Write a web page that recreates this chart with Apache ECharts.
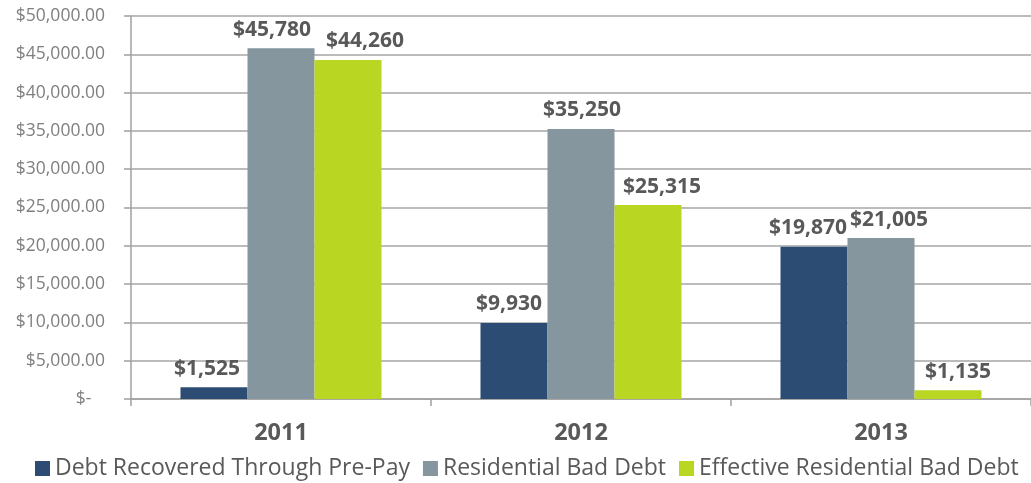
<!DOCTYPE html>
<html>
<head>
<meta charset="utf-8">
<script src="https://cdn.jsdelivr.net/npm/echarts@6/dist/echarts.min.js"></script>
<style>
  html, body { margin: 0; padding: 0; background: #fff; }
  #chart { width: 1031px; height: 483px; }
</style>
</head>
<body>
<div id="chart"></div>
<script>
// Years on the category axis
const years = ['2011', '2012', '2013'];

// Series values (dollars)
const recoveredPrePay = [1525, 9930, 19870];
const residentialBadDebt = [45780, 35250, 21005];
const effectiveBadDebt = [44260, 25315, 1135];

// Series names shown in the legend
const seriesNames = ['Debt Recovered Through Pre-Pay', 'Residential Bad Debt', 'Effective Residential Bad Debt'];

// Horizontal nudges for the value labels (px), per year
const labelShift = [
  [-7, -9, 17],
  [-5, 1, 14],
  [-6, 8, 10]
];

const colors = ['#2c4c74', '#85969e', '#b9d622'];
const font = '"Open Sans", Lato, sans-serif';

function money(v) {
  return '$' + v.toLocaleString('en-US');
}

function buildSeries(idx, values) {
  return {
    name: seriesNames[idx],
    type: 'bar',
    barGap: '0%',
    barCategoryGap: '33%',
    itemStyle: { color: colors[idx] },
    data: values.map((v, i) => ({
      value: v,
      label: { offset: [labelShift[i][idx], 0] }
    })),
    label: {
      show: true,
      position: 'top',
      distance: 8,
      formatter: p => money(p.value),
      fontFamily: font,
      fontWeight: 'bold',
      fontSize: 21,
      color: '#595959'
    }
  };
}

const chart = echarts.init(document.getElementById('chart'));
chart.setOption({
  animation: false,
  color: colors,
  grid: { left: 131, right: 0, top: 16, bottom: 84, containLabel: false },
  legend: {
    top: 452,
    left: 30,
    width: 1000,
    itemWidth: 15,
    itemHeight: 15,
    itemGap: 13,
    icon: 'rect',
    textStyle: { fontFamily: font, fontSize: 23, color: '#595959' },
    data: seriesNames
  },
  xAxis: {
    type: 'category',
    data: years,
    axisLine: { lineStyle: { color: '#a0a0a0', width: 1.5 } },
    axisTick: { show: true, length: 7, lineStyle: { color: '#a0a0a0', width: 1.5 } },
    axisLabel: { margin: 22, fontFamily: font, fontWeight: 'bold', fontSize: 23.5, color: '#595959' }
  },
  yAxis: {
    type: 'value',
    min: 0,
    max: 50000,
    interval: 5000,
    axisLine: { show: true, lineStyle: { color: '#a0a0a0', width: 1.5 } },
    axisTick: { show: true, length: 7, lineStyle: { color: '#a0a0a0', width: 1.5 } },
    splitLine: { lineStyle: { color: '#a6a6a6', width: 1.5 } },
    axisLabel: {
      margin: 26,
      fontFamily: font,
      fontSize: 17.5,
      color: '#7f7f7f',
      formatter: v => v === 0 ? '$-   ' : '$' + v.toLocaleString('en-US', { minimumFractionDigits: 2, maximumFractionDigits: 2 })
    }
  },
  series: [
    buildSeries(0, recoveredPrePay),
    buildSeries(1, residentialBadDebt),
    buildSeries(2, effectiveBadDebt)
  ]
});
</script>
</body>
</html>
